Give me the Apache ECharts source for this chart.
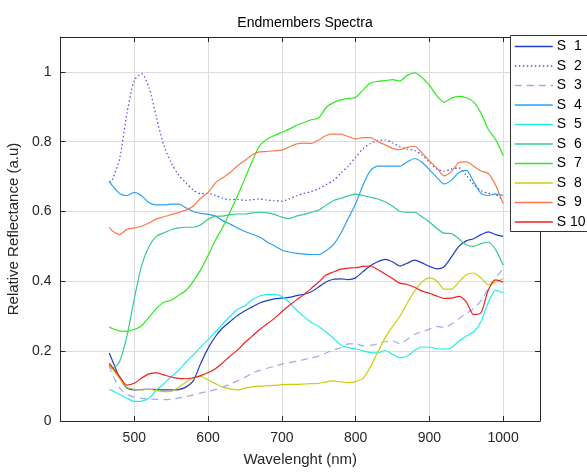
<!DOCTYPE html>
<html>
<head>
<meta charset="utf-8">
<script src="https://cdn.jsdelivr.net/npm/echarts@6/dist/echarts.min.js"></script>
<style>html,body{margin:0;padding:0;background:#fff}#c{width:587px;height:474px}</style>
</head>
<body>
<div id="c"></div>
<script>
const wavelengths = [466,470,480,490,500,510,520,530,540,550,560,570,580,590,600,610,620,630,640,650,660,670,680,690,700,710,720,730,740,750,760,770,780,790,800,810,820,830,840,850,860,870,880,890,900,910,920,930,940,950,960,970,980,990,1000];

const s1 = [0.195,0.175,0.125,0.095,0.089,0.090,0.091,0.090,0.089,0.089,0.090,0.097,0.115,0.165,0.208,0.242,0.267,0.285,0.302,0.316,0.327,0.338,0.345,0.350,0.352,0.354,0.359,0.363,0.370,0.384,0.398,0.406,0.407,0.405,0.410,0.428,0.445,0.456,0.463,0.456,0.444,0.452,0.461,0.453,0.443,0.436,0.442,0.470,0.500,0.516,0.522,0.534,0.542,0.534,0.529];
const s2 = [0.684,0.690,0.750,0.880,0.975,0.995,0.955,0.870,0.790,0.740,0.705,0.682,0.662,0.651,0.652,0.646,0.638,0.634,0.635,0.632,0.634,0.636,0.633,0.631,0.630,0.636,0.645,0.652,0.657,0.665,0.677,0.689,0.710,0.730,0.755,0.780,0.795,0.803,0.805,0.797,0.786,0.779,0.775,0.762,0.742,0.722,0.716,0.722,0.725,0.704,0.678,0.660,0.652,0.648,0.633];
const s3 = [0.160,0.135,0.095,0.076,0.069,0.065,0.063,0.062,0.061,0.062,0.066,0.070,0.075,0.080,0.085,0.090,0.097,0.106,0.115,0.125,0.137,0.145,0.151,0.157,0.163,0.167,0.171,0.176,0.181,0.186,0.195,0.204,0.210,0.221,0.221,0.215,0.217,0.221,0.227,0.230,0.221,0.234,0.248,0.256,0.263,0.271,0.268,0.278,0.293,0.308,0.322,0.345,0.380,0.410,0.436];
const s4 = [0.688,0.675,0.652,0.646,0.655,0.645,0.625,0.619,0.619,0.621,0.621,0.611,0.600,0.595,0.592,0.587,0.574,0.564,0.553,0.543,0.535,0.527,0.513,0.502,0.490,0.484,0.480,0.478,0.477,0.477,0.488,0.505,0.538,0.580,0.622,0.675,0.717,0.730,0.730,0.730,0.730,0.742,0.752,0.741,0.720,0.698,0.679,0.690,0.712,0.718,0.686,0.652,0.646,0.650,0.646];
const s5 = [0.091,0.087,0.076,0.065,0.056,0.057,0.066,0.089,0.106,0.127,0.145,0.169,0.189,0.212,0.233,0.256,0.278,0.300,0.320,0.330,0.347,0.358,0.363,0.363,0.357,0.340,0.318,0.299,0.282,0.271,0.255,0.237,0.218,0.210,0.207,0.201,0.196,0.195,0.202,0.191,0.181,0.186,0.202,0.212,0.212,0.207,0.206,0.210,0.229,0.243,0.255,0.285,0.340,0.374,0.367];
const s6 = [0.160,0.150,0.170,0.243,0.350,0.446,0.500,0.529,0.539,0.548,0.553,0.555,0.555,0.562,0.578,0.586,0.587,0.591,0.593,0.593,0.596,0.598,0.596,0.592,0.584,0.580,0.587,0.592,0.598,0.604,0.618,0.631,0.638,0.645,0.650,0.646,0.641,0.636,0.628,0.615,0.601,0.598,0.598,0.585,0.570,0.552,0.538,0.537,0.522,0.505,0.500,0.508,0.512,0.490,0.446];
const s7 = [0.270,0.265,0.258,0.257,0.262,0.273,0.297,0.322,0.340,0.346,0.360,0.374,0.400,0.433,0.474,0.518,0.555,0.600,0.645,0.695,0.745,0.789,0.807,0.818,0.827,0.836,0.847,0.855,0.863,0.868,0.898,0.912,0.920,0.924,0.927,0.948,0.968,0.973,0.975,0.978,0.974,0.990,0.997,0.984,0.962,0.932,0.913,0.925,0.930,0.926,0.914,0.882,0.835,0.806,0.760];
const s8 = [0.165,0.150,0.122,0.097,0.091,0.089,0.091,0.087,0.084,0.085,0.097,0.111,0.123,0.128,0.118,0.107,0.097,0.092,0.089,0.094,0.098,0.100,0.101,0.102,0.104,0.105,0.105,0.106,0.107,0.108,0.112,0.115,0.112,0.110,0.113,0.122,0.155,0.197,0.238,0.270,0.300,0.338,0.372,0.398,0.410,0.402,0.378,0.378,0.398,0.419,0.424,0.410,0.390,0.398,0.408];
const s9 = [0.555,0.545,0.534,0.549,0.553,0.558,0.567,0.579,0.585,0.591,0.597,0.604,0.616,0.638,0.654,0.682,0.697,0.712,0.731,0.746,0.763,0.771,0.772,0.774,0.776,0.785,0.794,0.796,0.795,0.805,0.818,0.822,0.822,0.815,0.808,0.812,0.812,0.801,0.791,0.781,0.777,0.784,0.787,0.768,0.745,0.725,0.702,0.715,0.740,0.742,0.730,0.716,0.709,0.675,0.622];
const s10 = [0.165,0.155,0.128,0.103,0.108,0.123,0.135,0.138,0.132,0.126,0.122,0.121,0.124,0.130,0.138,0.150,0.167,0.186,0.203,0.225,0.243,0.262,0.278,0.294,0.313,0.331,0.347,0.362,0.380,0.398,0.418,0.427,0.435,0.438,0.439,0.443,0.444,0.434,0.421,0.408,0.395,0.391,0.383,0.372,0.366,0.358,0.351,0.352,0.357,0.341,0.305,0.310,0.375,0.404,0.398];

const seriesNames = ['S  1','S  2','S  3','S  4','S  5','S  6','S  7','S  8','S  9','S 10'];
const seriesValues = [s1,s2,s3,s4,s5,s6,s7,s8,s9,s10];
const seriesColors = ['#1f3cc8','#4848ee','#a0a8f0','#2a9ff4','#22eeee','#33cc88','#30ea20','#cccc11','#fa7a4a','#ee2020'];
const lineTypes = ['solid',[1.5,2.5],[7,5],'solid','solid','solid','solid','solid','solid','solid'];

const FONT = 'Liberation Sans, Arial, Helvetica, sans-serif';
const AX = '#262626';

const chart = echarts.init(document.getElementById('c'), null, {renderer:'canvas'});

const series = seriesNames.map((name, k) => ({
  name: name,
  type: 'line',
  xAxisIndex: 0,
  yAxisIndex: 0,
  showSymbol: false,
  symbol: 'none',
  smooth: 0.25,
  color: seriesColors[k],
  lineStyle: {width: 1.2, type: lineTypes[k], color: seriesColors[k]},
  data: wavelengths.map((w, i) => [w, seriesValues[k][i]]),
  z: 2
}));

chart.setOption({
  animation: false,
  backgroundColor: '#ffffff',
  textStyle: {fontFamily: FONT},
  title: {
    text: 'Endmembers Spectra',
    left: 300, top: 11, textAlign: 'center',
    textStyle: {fontFamily: FONT, fontSize: 14, fontWeight: 'normal', color: '#000'}
  },
  grid: {left: 60.5, right: 47, top: 37, bottom: 53, containLabel: false, outerBoundsMode: 'none'},
  legend: {
    orient: 'vertical', left: 514, top: 39.5, padding: 0,
    itemWidth: 38, itemHeight: 14, itemGap: 5.5,
    textStyle: {fontFamily: FONT, fontSize: 14, color: '#000', padding: [0,0,0,-1]},
    itemStyle: {opacity: 0, borderWidth: 0},
    lineStyle: {width: 1.6, opacity: 1},
    data: seriesNames,
    z: 10
  },
  graphic: [{
    type: 'rect', z: 8, silent: true,
    shape: {x: 510.5, y: 35.5, width: 100, height: 196},
    style: {fill: '#fff', stroke: '#333', lineWidth: 1}
  }],
  xAxis: [{
    type: 'value', min: 400, max: 1050, interval: 100,
    name: 'Wavelenght (nm)', nameLocation: 'middle', nameGap: 31,
    nameTextStyle: {fontFamily: FONT, fontSize: 15, color: AX},
    axisLine: {show: true, onZero: false, lineStyle: {color: AX, width: 1}},
    axisTick: {show: true, inside: true, length: 5, lineStyle: {color: AX}},
    axisLabel: {fontFamily: FONT, fontSize: 14, color: AX, margin: 10,
      formatter: v => (v === 400 || v === 1050) ? '' : String(v)},
    splitLine: {show: true, lineStyle: {color: '#dcdcdc', width: 1}}
  }, {
    type: 'value', position: 'top', min: 400, max: 1050, interval: 100,
    axisLine: {show: true, onZero: false, lineStyle: {color: AX, width: 1}},
    axisTick: {show: true, inside: true, length: 5, lineStyle: {color: AX}},
    axisLabel: {show: false}, splitLine: {show: false}
  }],
  yAxis: [{
    type: 'value', min: 0, max: 1.1, interval: 0.2,
    name: 'Relative Reflectance (a.u)', nameLocation: 'middle', nameGap: 35,
    nameTextStyle: {fontFamily: FONT, fontSize: 15, color: AX},
    axisLine: {show: true, onZero: false, lineStyle: {color: AX, width: 1}},
    axisTick: {show: true, inside: true, length: 5, lineStyle: {color: AX}},
    axisLabel: {fontFamily: FONT, fontSize: 14, color: AX, margin: 9,
      formatter: v => (Math.abs(v - 1.1) < 1e-6) ? '' : String(Math.round(v * 10) / 10)},
    splitLine: {show: true, lineStyle: {color: '#dcdcdc', width: 1}}
  }, {
    type: 'value', position: 'right', min: 0, max: 1.1, interval: 0.2,
    axisLine: {show: true, onZero: false, lineStyle: {color: AX, width: 1}},
    axisTick: {show: true, inside: true, length: 5, lineStyle: {color: AX}},
    axisLabel: {show: false}, splitLine: {show: false}
  }],
  series: series
});
</script>
</body>
</html>
